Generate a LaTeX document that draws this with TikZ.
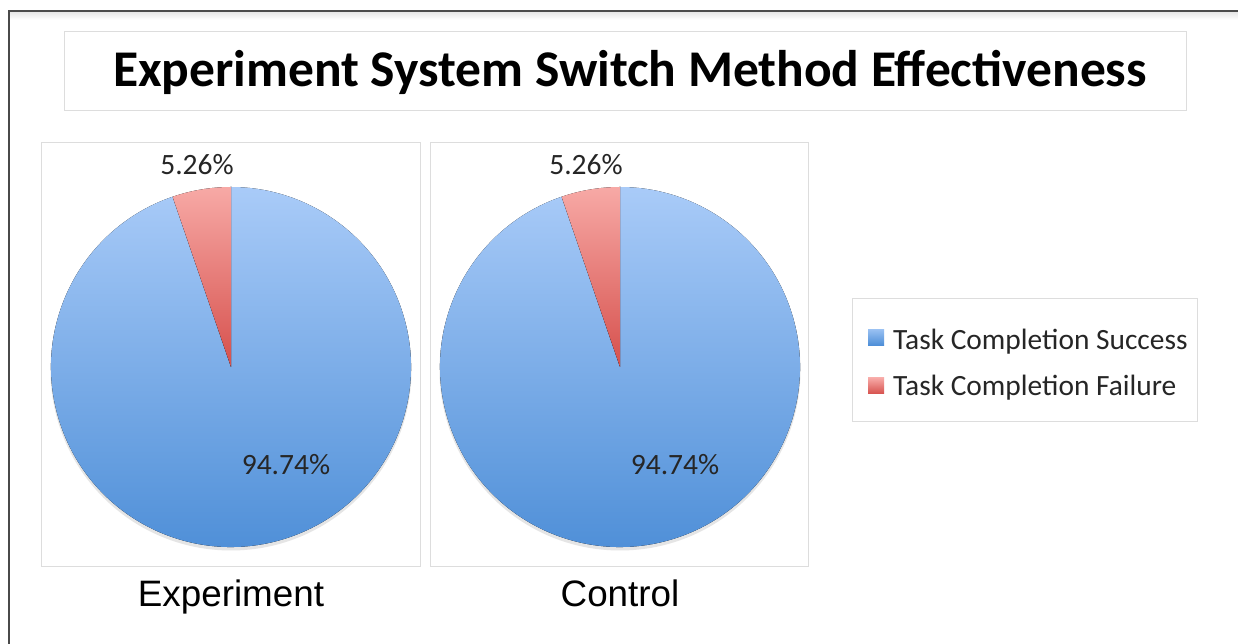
\documentclass[tikz,border=0pt]{standalone}
\usepackage{fontspec}
\setmainfont{Carlito}
\newfontfamily\arialfont{Liberation Sans}
\definecolor{frameline}{HTML}{4A4A4A}
\definecolor{panelline}{HTML}{DDDDDD}
\definecolor{bluetop}{HTML}{A9CBF8}
\definecolor{bluebot}{HTML}{4A8CD6}
\definecolor{redtop}{HTML}{F7A9A6}
\definecolor{redbot}{HTML}{D6504C}
\definecolor{labeltext}{HTML}{262626}
\tikzset{
  panel/.style={draw=panelline, line width=1pt, fill=white},
  slicesucc/.style={top color=bluetop, bottom color=bluebot, draw=none},
  slicefail/.style={top color=redtop, bottom color=redbot, draw=none},
  pctlabel/.style={font=\fontsize{29.5}{34}\selectfont, text=labeltext, inner sep=0pt},
  caption/.style={font=\arialfont\fontsize{36.8}{42}\selectfont, text=black, inner sep=0pt, anchor=base},
  legendtext/.style={font=\fontsize{29.4}{34}\selectfont, text=labeltext, anchor=west, inner sep=0pt},
}
\begin{document}
\begin{tikzpicture}[x=1pt,y=1pt]
  \useasboundingbox (0,0) rectangle (1238,644);
  \fill[white] (0,0) rectangle (1238,644);
  % outer frame with a soft shade under its top edge
  \begin{scope}
    \clip (0,0) rectangle (1238,644);
    \shade[top color=black!10, bottom color=white] (10,624) rectangle (1245,632);
    \draw[frameline, line width=2pt] (9,-5) -- (9,633) -- (1245,633);
  \end{scope}
  % title box
  \node[panel, minimum width=1122pt, minimum height=79pt, inner sep=0pt] (titlebox) at (625,572.5) {};
  \node[font=\bfseries\fontsize{51.5}{56}\selectfont, inner sep=0pt] (title) at (630,572)
        {Experiment System Switch Method Effectiveness};
  % chart panels
  \node[panel, minimum width=379pt, minimum height=424pt] (panelA) at (230.5,289) {};
  \node[panel, minimum width=378pt, minimum height=424pt] (panelB) at (619,289) {};
  % pie charts
  \foreach \cx/\nm in {231/A, 620/B} {
    \coordinate (pie\nm) at (\cx,277);
    \fill[black!40, opacity=0.25] (\cx,274) circle (180.5);
    \fill[bluebot] (pie\nm) circle (179.5);
    \fill[slicesucc] (pie\nm) -- ++(108.94:180) arc (108.94:450:180) -- cycle;
    \fill[slicefail] (pie\nm) -- ++(90:180) arc (90:108.94:180) -- cycle;
  }
  \node[pctlabel] (failA) at (197,479) {5.26\%};
  \node[pctlabel] (succA) at (286,179) {94.74\%};
  \node[pctlabel] (failB) at (586,479) {5.26\%};
  \node[pctlabel] (succB) at (675,179) {94.74\%};
  % captions
  \node[caption] (capA) at (231,37) {Experiment};
  \node[caption] (capB) at (620,37) {Control};
  % legend
  \node[panel, minimum width=345pt, minimum height=123pt] (legend) at (1024.5,283.5) {};
  \fill[top color=bluetop!80!bluebot, bottom color=bluebot] (868,298) rectangle (884,314);
  \node[legendtext] (legS) at (893,302) {Task Completion Success};
  \fill[top color=redtop, bottom color=redbot] (868,250) rectangle (884,266);
  \node[legendtext] (legF) at (893,256) {Task Completion Failure};
\end{tikzpicture}
\end{document}
